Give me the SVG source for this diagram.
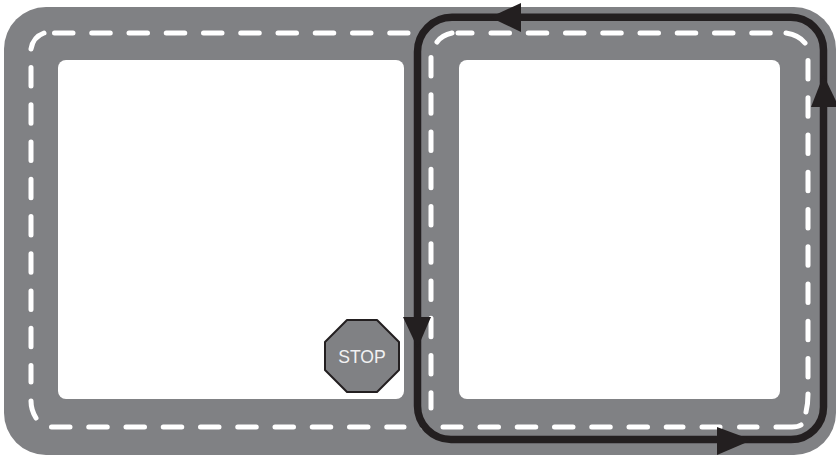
<svg xmlns="http://www.w3.org/2000/svg" width="836" height="459" viewBox="0 0 836 459">
<defs><style>
.road{fill:#808184}
.hole{fill:#fff}
.dash{fill:none;stroke:#fff;stroke-width:5;stroke-linecap:round}
.d{stroke-dasharray:18.5 18.75}
.route{fill:none;stroke:#231f20;stroke-width:7.500}
.head{fill:#231f20}
.stop{fill:#808184;stroke:#231f20;stroke-width:2;stroke-linejoin:round}
.label{font:17.6px "Liberation Sans",Arial,sans-serif;fill:#f1f1f2;text-anchor:middle}
</style></defs>
<g id="road">
<path class="road" d="M46 7H794A42 42 0 0 1 836 49V413A42 42 0 0 1 794 455H46A42 42 0 0 1 4 413V49A42 42 0 0 1 46 7Z"/>
<rect class="hole" x="58" y="60" width="346" height="339" rx="8"/>
<rect class="hole" x="459" y="60" width="321" height="339" rx="8"/>
</g>
<g id="lane-markings">
<path class="dash" d="M31 49Q33 37 44 33"/>
<path class="dash d" d="M54.500 33H408"/>
<path class="dash d" d="M491 33H772"/>
<path class="dash" d="M458 33H472"/>
<path class="dash" d="M786 33Q799 35 805 43"/>
<path class="dash d" d="M808 60.500V380"/>
<path class="dash" d="M808 394Q808 404 806 412"/>
<path class="dash" d="M776 427H792Q798 427 801 425"/>
<path class="dash d" d="M739.500 427H757"/>
<path class="dash" d="M702 427H720"/>
<path class="dash d" d="M480 427H683"/>
<path class="dash" d="M443 427H461"/>
<path class="dash d" d="M51.500 427H404"/>
<path class="dash" d="M36 418Q31 410 31 401"/>
<path class="dash d" d="M31 67.500V382"/>
<path class="dash" d="M437 42Q442 35 452 33"/>
<path class="dash d" d="M431 57.500V408"/>
<path class="dash" d="M423 427H426"/>
</g>
<g id="connectors">
<path class="route" d="M520 17.300H452A34.500 34.500 0 0 0 417.500 51.800V406A33.500 33.500 0 0 0 451 439.500H791A32.500 32.500 0 0 0 823.500 407V50A32.700 32.700 0 0 0 790.800 17.300H520"/>
<polygon class="head" points="403,317 431,317 417.500,348"/>
<polygon class="head" points="521,3 521,32 490,17.300"/>
<polygon class="head" points="811,107 836,107 836,101 823.500,75"/>
<polygon class="head" points="717,427 717,455 752,440"/>
</g>
<g id="stop-sign">
<polygon class="stop" points="347,320 377,320 399,342 399,370 377,392 347,392 325,370 325,342"/>
<text class="label" x="362" y="362.700">STOP</text>
</g>
</svg>
